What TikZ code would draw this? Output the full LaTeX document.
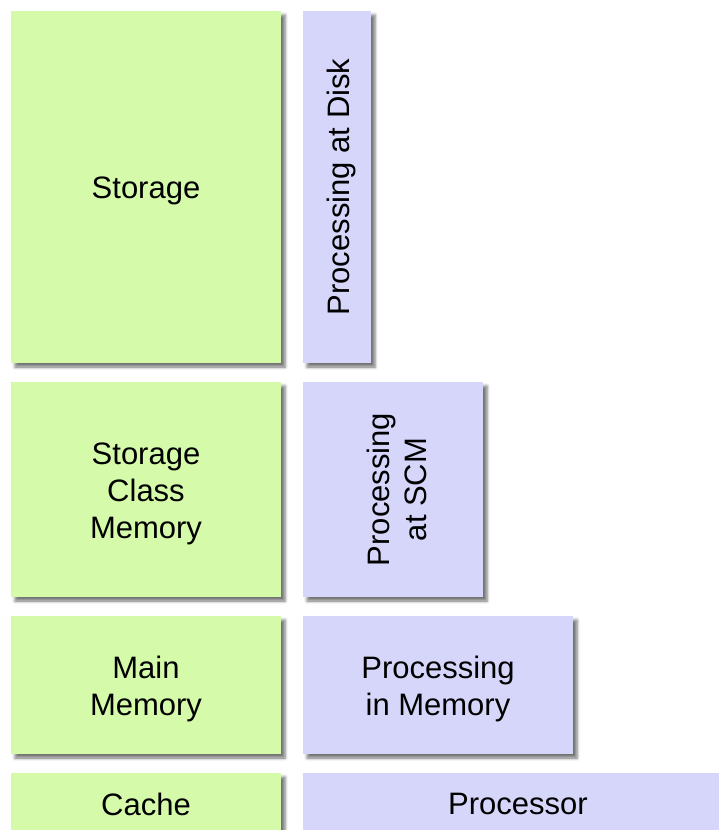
\documentclass[tikz,border=0pt]{standalone}
\usepackage{fontspec}
\setmainfont{Liberation Sans}
\usetikzlibrary{shadows.blur}
\definecolor{memgreen}{HTML}{D5FAAA}
\definecolor{procblue}{HTML}{D6D6FB}
\tikzset{
  box/.style={inner sep=0pt, outer sep=0pt, anchor=north west,
    blur shadow={shadow xshift=4pt, shadow yshift=-4pt, shadow blur radius=3pt, shadow opacity=55}},
  mem/.style={box, fill=memgreen},
  proc/.style={box, fill=procblue},
  lbl/.style={inner sep=0pt, align=center, font=\fontsize{31}{37}\selectfont},
  lbldown/.style={lbl, yshift=-4pt},
  lblrot/.style={lbl, xshift=4pt, rotate=90}
}
\begin{document}
\begin{tikzpicture}[x=1pt,y=-1pt]
\useasboundingbox (0,0) rectangle (719,830);
\clip (0,0) rectangle (719,830);
% row 1
\node[mem, minimum width=270pt, minimum height=352pt] (storage) at (11,11) {};
\node[lbldown] (storagelbl) at (storage.center) {Storage};
\node[proc, minimum width=68pt, minimum height=352pt] (pdisk) at (303,11) {};
\node[lblrot] (pdisklbl) at (pdisk.center) {Processing at Disk};
% row 2
\node[mem, minimum width=270pt, minimum height=215pt] (scm) at (11,382) {};
\node[lbldown] (scmlbl) at (scm.center) {Storage\\Class\\Memory};
\node[proc, minimum width=180pt, minimum height=215pt] (pscm) at (303,382) {};
\node[lblrot] (pscmlbl) at (pscm.center) {Processing\\at SCM};
% row 3
\node[mem, minimum width=270pt, minimum height=138pt] (mainmem) at (11,616) {};
\node[lbldown] (mainmemlbl) at (mainmem.center) {Main\\Memory};
\node[proc, minimum width=270pt, minimum height=138pt] (pim) at (303,616) {};
\node[lbldown] (pimlbl) at (pim.center) {Processing\\in Memory};
% row 4
\node[mem, minimum width=270pt, minimum height=62pt] (cache) at (11,773) {};
\node[lbl] (cachelbl) at (cache.center) {Cache};
\node[proc, minimum width=430pt, minimum height=62pt] (proc) at (303,773) {};
\node[lbl] (proclbl) at (proc.center) {Processor};
\end{tikzpicture}
\end{document}
